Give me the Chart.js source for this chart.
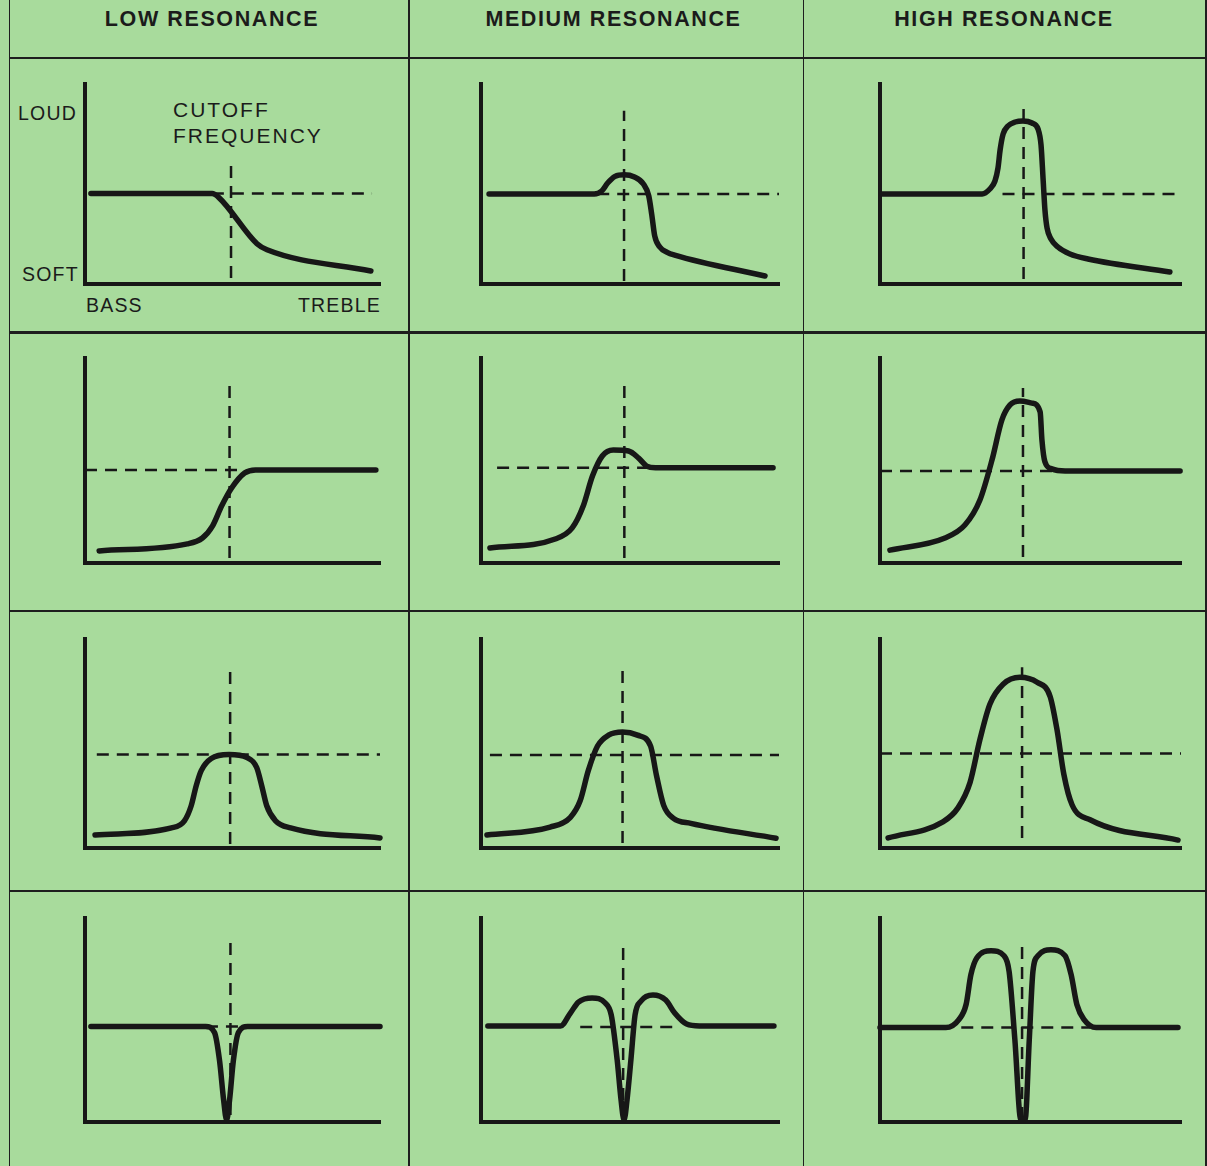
<!DOCTYPE html>
<html>
<head>
<meta charset="utf-8">
<title>Filter resonance</title>
<script src="https://cdn.jsdelivr.net/npm/chart.js@4.4.1/dist/chart.umd.min.js"></script>
<style>
  body { margin: 0; background: #a8db9c; }
  #sheet {
    position: relative;
    width: 1207px;
    height: 1166px;
    overflow: hidden;
    background: #a8db9c;
    color: #1b1b1b;
    font-family: "Liberation Sans", Arial, sans-serif;
  }
  .rule { position: absolute; background: #1e1e1e; }
  .head {
    position: absolute;
    width: 400px;
    text-align: center;
    font-weight: bold;
    font-size: 21.5px;
    line-height: 21.5px;
    letter-spacing: 1.6px;
    white-space: nowrap;
  }
  .word {
    position: absolute;
    font-size: 19.5px;
    line-height: 19.5px;
    letter-spacing: 1.2px;
    white-space: nowrap;
  }
  canvas { position: absolute; }
</style>
</head>
<body>
<div id="sheet"></div>
<script>
"use strict";

// ---- texts ----
var resonanceHeadings = ["LOW RESONANCE", "MEDIUM RESONANCE", "HIGH RESONANCE"];
var loudnessWords = ["LOUD", "SOFT"];
var pitchWords = ["BASS", "TREBLE"];
var cutoffWords = ["CUTOFF", "FREQUENCY"];

// ---- response curves, [frequency, loudness] on a 0..100 scale ----
// row 1: low pass
var lowPassLow = [[2, 45.2], [43.1, 45.2], [45.4, 43.2], [58.3, 20.1], [61.7, 17.1], [96.9, 6.5]];
var lowPassMed = [[2.7, 45], [38, 45], [40.5, 46.5], [42.5, 50.5], [45, 53.8], [48, 54.6], [51.5, 53.5],
  [54.5, 50], [56.3, 44], [57.3, 34.7], [58.3, 24], [60, 18.5], [62.5, 15.8], [65, 14.4], [95.3, 4]];
var lowPassHigh = [[0.7, 45], [33.9, 45], [36.5, 47.5], [38.2, 51.5], [39.2, 58], [39.9, 67], [40.9, 75],
  [42.5, 79], [44.9, 81], [47.5, 81.5], [50.5, 80.5], [52.5, 77.5], [53.5, 69.5], [54.2, 52], [54.8, 37],
  [55.5, 28], [56.8, 22.5], [59.1, 18.5], [63.1, 15], [69.1, 12.5], [96.3, 6]];

// row 2: high pass
var highPassLow = [[4.8, 5.9], [34.7, 9.3], [39.8, 12.2], [43.2, 18], [46.3, 27.8], [49.7, 36.6], [54.1, 43.9],
  [57.8, 45.4], [98.6, 45.4]];
var highPassMed = [[3, 7.3], [24.9, 11.7], [30.6, 17.1], [34.3, 27.8], [37.4, 42.4], [40.7, 52.2], [44.4, 55.1],
  [49.5, 54.6], [52.9, 51.2], [55.6, 47.3], [58.6, 46.5], [98, 46.5]];
var highPassHigh = [[3.3, 6.3], [21.6, 12.2], [28.2, 18.5], [33.2, 30.7], [37.2, 50.2], [40.5, 69.8], [43.2, 77.1],
  [46.5, 79], [50.5, 78], [53.2, 73.7], [53.8, 60], [54.8, 49.3], [57.1, 45.9], [61.5, 44.9], [99.7, 44.9]];

// row 3: band pass
var bandPassLow = [[3.4, 6.2], [29.3, 9.6], [33.7, 13], [36, 20.2], [37.7, 29.8], [39.4, 37], [42.8, 42.8],
  [48.8, 44.7], [54.9, 43.3], [58.2, 38.5], [59.9, 29.8], [61.6, 20.2], [64.6, 13], [69.7, 9.6], [100, 4.8]];
var bandPassMed = [[2, 6.2], [23.2, 10], [30, 14.7], [33.3, 22.7], [36, 37], [39.1, 48.8], [42.8, 54], [47.5, 55.5],
  [52.5, 54], [56.9, 48.8], [58.9, 34.6], [61.3, 20.4], [64.6, 14.2], [70.4, 11.8], [99, 4.7]];
var bandPassHigh = [[2.7, 4.8], [20.9, 12.5], [25.9, 19.2], [29.9, 31.3], [33.2, 51.9], [36.5, 68.8], [40.9, 78.4],
  [46.5, 81.7], [52.2, 79.3], [56.5, 72.6], [58.8, 56.7], [61.1, 35.1], [63.8, 20.7], [69.8, 13.5], [99, 3.8]];

// row 4: notch
var notchLow = [[2, 46.8], [40.9, 46.8], [43.9, 43.9], [45.6, 30.2], [47, 10.7], [48, 1], [49, 10.7], [50.3, 30.2],
  [52, 43.9], [55.1, 46.8], [100, 46.8]];
var notchMed = [[2.3, 47.1], [26.7, 47.1], [30, 53.4], [32.7, 58.8], [37.3, 60.8], [41.7, 58.3], [43.7, 52.5],
  [45.7, 30.4], [47, 10.8], [48, 1], [49, 10.8], [50.3, 30.4], [51.7, 52.5], [53.7, 59.3], [57.7, 62.3],
  [62, 59.8], [65, 53.4], [69, 48], [73.3, 47.1], [98.3, 47.1]];
var notchHigh = [[0, 46.3], [21.9, 46.3], [26.2, 50.2], [28.6, 57.6], [30.2, 72.2], [32.2, 80.5], [36.9, 83.9],
  [41.2, 81.5], [42.9, 73.7], [44.8, 40.5], [46.8, 1], [48.2, 1], [49.6, 40.5], [50.8, 73.7], [52.5, 81.5],
  [56.8, 84.4], [61.5, 81.5], [63.5, 72.2], [65.4, 57.6], [67.8, 50.2], [71.8, 46.3], [99, 46.3]];

var responseCurves = [
  [lowPassLow, lowPassMed, lowPassHigh],
  [highPassLow, highPassMed, highPassHigh],
  [bandPassLow, bandPassMed, bandPassHigh],
  [notchLow, notchMed, notchHigh],
];

// dashed guides: pass level (horizontal) and cutoff frequency (vertical)
var passLevel = [[45.2, 45, 45], [45.4, 46.5, 44.9], [44.7, 44.5, 45.2], [46.8, 46.6, 46.3]];
var passLevelSpan = [
  [[43, 97.3], [39, 100], [40.7, 100]],
  [[0, 52], [5.4, 98], [0, 100]],
  [[4, 100], [3, 100], [0, 100]],
  [[41, 56], [33.3, 65], [27, 70]],
];
var cutoffFreq = [[49.5, 48, 47.7], [49, 48.1, 47.5], [49.2, 47.5, 47.2], [49.3, 47.7, 47.2]];
var cutoffSpan = [
  [[3, 60.3], [1.5, 86.6], [2.5, 87.5]],
  [[2.4, 86.3], [2.4, 86.8], [2.9, 85.4]],
  [[1.9, 86], [2.4, 85.3], [4.8, 86.5]],
  [[3.4, 88.8], [1, 88.2], [1.5, 86.8]],
];

// ---- page layout (pixels) ----
var ink = "#171717";
var colAxisLeft = [85, 481, 880];
var colAxisRight = [380, 779, 1181];
var rowAxisTop = [84, 358, 639, 918];
var rowAxisBottom = [284, 563, 848, 1122];
var ruleX = [8.5, 408.3, 802.7, 1205];
var ruleY = [57, 331.3, 610, 889.5];
var headCenter = [212, 613.5, 1004];

var sheet = document.getElementById("sheet");

function addBox(cls, left, top, width, height) {
  var el = document.createElement("div");
  el.className = cls;
  el.style.left = left + "px";
  el.style.top = top + "px";
  if (width) el.style.width = width + "px";
  if (height) el.style.height = height + "px";
  sheet.appendChild(el);
  return el;
}

function addText(cls, text, left, top, rightAlign) {
  var el = addBox(cls, left, top);
  el.textContent = text;
  if (rightAlign) {
    el.style.left = "";
    el.style.right = 1207 - left + "px";
  }
  return el;
}

function drawRules() {
  ruleX.forEach(function (x) {
    addBox("rule", x, 0, 1.8, 1166);
  });
  // horizontal rules start at the left border
  ruleY.forEach(function (y) {
    addBox("rule", ruleX[0], y, 1207 - ruleX[0], 2.3);
  });
}

function drawTexts() {
  resonanceHeadings.forEach(function (txt, idx) {
    addText("head", txt, headCenter[idx] - 200, 9);
  });
  addText("word", loudnessWords[0], 18, 103.5);
  addText("word", loudnessWords[1], 22, 264.5);
  addText("word", pitchWords[0], 86, 295.5);
  addText("word", pitchWords[1], 381, 295.5, true);

  var c1 = addText("word", cutoffWords[0], 173, 99.3);
  var c2 = addText("word", cutoffWords[1], 173, 124.8);
  [c1, c2].forEach(function (el) {
    el.style.fontSize = "21px";
    el.style.lineHeight = "21px";
    el.style.letterSpacing = "2px";
  });
}

function toPoints(pairs) {
  return pairs.map(function (p) {
    return { x: p[0], y: p[1] };
  });
}

function plainAxis() {
  return {
    type: "linear",
    min: 0,
    max: 100,
    ticks: { display: false },
    grid: { display: false, drawTicks: false },
    border: { display: true, color: ink, width: 4 },
  };
}

function drawPanel(row, col) {
  var pad = 12;
  var left = colAxisLeft[col];
  var right = colAxisRight[col];
  var top = rowAxisTop[row];
  var bottom = rowAxisBottom[row];

  var canvas = document.createElement("canvas");
  canvas.width = right - left + pad * 2;
  canvas.height = bottom - top + pad * 2;
  canvas.style.left = left - pad + "px";
  canvas.style.top = top - pad + "px";
  sheet.appendChild(canvas);

  var level = passLevel[row][col];
  var lSpan = passLevelSpan[row][col];
  var freq = cutoffFreq[row][col];
  var fSpan = cutoffSpan[row][col];

  new Chart(canvas, {
    type: "line",
    data: {
      datasets: [
        {
          data: toPoints(responseCurves[row][col]),
          borderColor: ink,
          borderWidth: 5.5,
          cubicInterpolationMode: "monotone",
          borderCapStyle: "round",
          borderJoinStyle: "round",
          pointRadius: 0,
          clip: false,
        },
        {
          data: toPoints([[lSpan[0], level], [lSpan[1], level]]),
          borderColor: ink,
          borderWidth: 2.5,
          borderDash: [12, 8],
          pointRadius: 0,
          clip: false,
        },
        {
          data: toPoints([[freq, fSpan[0]], [freq, fSpan[1]]]),
          borderColor: ink,
          borderWidth: 2.5,
          borderDash: [12, 8],
          pointRadius: 0,
          clip: false,
        },
      ],
    },
    options: {
      responsive: false,
      animation: false,
      events: [],
      layout: { padding: pad },
      plugins: {
        legend: { display: false },
        tooltip: { enabled: false },
      },
      scales: {
        x: plainAxis(),
        y: plainAxis(),
      },
    },
  });
}

drawRules();
drawTexts();
for (var r = 0; r < 4; r++) {
  for (var c = 0; c < 3; c++) {
    drawPanel(r, c);
  }
}
</script>
</body>
</html>
